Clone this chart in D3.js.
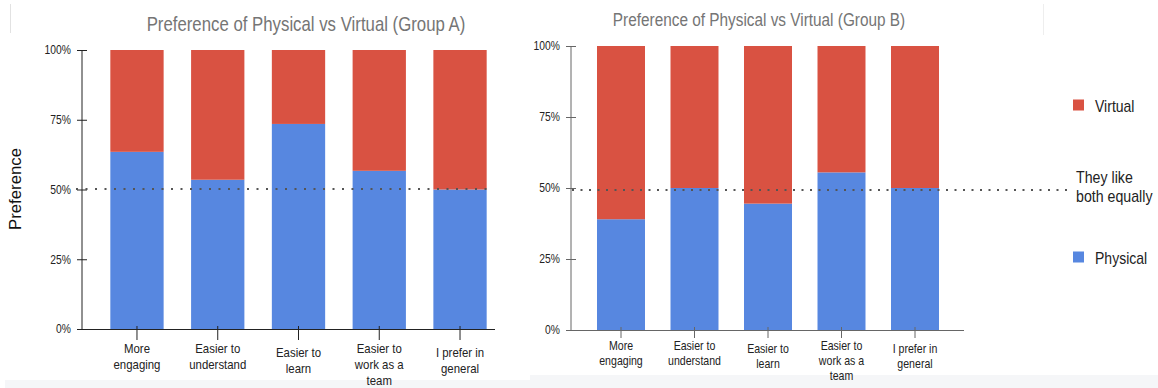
<!DOCTYPE html>
<html>
<head>
<meta charset="utf-8">
<script src="https://cdn.jsdelivr.net/npm/d3@7"></script>
<style>
  html, body { margin: 0; padding: 0; background: #fff; }
  svg { display: block; }
  text { font-family: "Liberation Sans", Arial, Helvetica, sans-serif; }
</style>
</head>
<body>
<svg id="chart" width="1158" height="388"></svg>
<script>
// ---- data ----
const categories = ["More engaging", "Easier to understand", "Easier to learn", "Easier to work as a team", "I prefer in general"];
const tickLabels = [["More", "engaging"], ["Easier to", "understand"], ["Easier to", "learn"], ["Easier to", "work as a", "team"], ["I prefer in", "general"]];
const seriesNames = ["Physical", "Virtual"];
const physicalA = [0.635, 0.535, 0.735, 0.567, 0.50];
const virtualA  = [0.365, 0.465, 0.265, 0.433, 0.50];
const physicalB = [0.39, 0.50, 0.445, 0.555, 0.50];
const virtualB  = [0.61, 0.50, 0.555, 0.445, 0.50];
const yTicks = [0, 0.25, 0.5, 0.75, 1];
const equalValue = 0.5;
const titleA = "Preference of Physical vs Virtual (Group A)";
const titleB = "Preference of Physical vs Virtual (Group B)";
const yAxisTitle = "Preference";
const equalLabel = ["They like", "both equally"];

const colors = { Physical: "#5787e0", Virtual: "#d95242" };
const SX = 0.84; // horizontal squeeze of the screenshot's text
const svg = d3.select("#chart");

// text helper: squeezed horizontally, multi-line
function label(parent, x, y, size, lines, opts = {}) {
  const t = parent.append("text")
    .attr("transform", `translate(${x},${y}) scale(${opts.sx ?? SX},1)`)
    .attr("text-anchor", opts.anchor || "start")
    .attr("font-size", size).attr("fill", opts.fill || "#222");
  lines.forEach((ln, j) => t.append("tspan").attr("x", 0).attr("dy", j === 0 ? 0 : (opts.lineH || size * 1.2)).text(ln));
  return t;
}

// background decorations of the screenshot
svg.append("rect").attr("x", 5).attr("y", 380).attr("width", 525).attr("height", 8).attr("fill", "#f5f6f8");
svg.append("rect").attr("x", 530).attr("y", 375).attr("width", 628).attr("height", 13).attr("fill", "#f5f6f8");
svg.append("line").attr("x1", 10.5).attr("x2", 10.5).attr("y1", 4).attr("y2", 33).attr("stroke", "#e2e2e2");
svg.append("line").attr("x1", 1043.5).attr("x2", 1043.5).attr("y1", 4).attr("y2", 35).attr("stroke", "#eeeeee");

function drawChart(cfg) {
  const g = svg.append("g");
  const x = d3.scaleBand().domain(categories).range(cfg.bandRange)
    .paddingInner(cfg.padInner).paddingOuter(cfg.padInner / 2);
  const y = d3.scaleLinear().domain([0, 1]).range([cfg.bottom, cfg.top]);

  const rows = categories.map((c, i) => ({ cat: c, Physical: cfg.physical[i], Virtual: cfg.virtual[i] }));
  const stacked = d3.stack().keys(seriesNames)(rows);

  g.selectAll("g.series").data(stacked).join("g")
    .attr("fill", d => colors[d.key])
    .selectAll("rect").data(d => d).join("rect")
    .attr("x", d => x(d.data.cat))
    .attr("width", x.bandwidth())
    .attr("y", d => y(d[1]))
    .attr("height", d => y(d[0]) - y(d[1]));

  // y axis
  const yAxis = d3.axisLeft(y).tickValues(yTicks).tickFormat(d3.format(".0%")).tickSize(5).tickPadding(6);
  const ya = g.append("g").attr("transform", `translate(${cfg.axisX},0)`).call(yAxis);
  ya.select(".domain").attr("stroke", cfg.axisColor).attr("d", `M0,${cfg.top}V${cfg.bottom}`);
  ya.selectAll(".tick line").attr("stroke", cfg.axisColor).attr("x1", 5).attr("x2", -5);
  ya.selectAll(".tick text").attr("fill", "#222").attr("font-size", cfg.tickFont)
    .attr("font-family", "Liberation Sans, Arial, sans-serif")
    .attr("x", -11 / SX).attr("transform", `scale(${SX},1)`);

  // x axis
  const xAxis = d3.axisBottom(x).tickSize(cfg.xTickLen).tickFormat("");
  const xa = g.append("g").attr("transform", `translate(0,${cfg.bottom})`).call(xAxis);
  xa.select(".domain").remove();
  xa.selectAll(".tick line").attr("stroke", cfg.axisColor).attr("y1", -3);
  g.append("line").attr("x1", cfg.axisX).attr("x2", cfg.axisEnd)
    .attr("y1", cfg.bottom + 0.5).attr("y2", cfg.bottom + 0.5).attr("stroke", cfg.axisColor);

  // x labels (multi-line)
  const lowered = [false, false, true, false, true];
  categories.forEach((c, i) => {
    label(g, x(c) + x.bandwidth() / 2, cfg.bottom + cfg.labelTop + (lowered[i] ? cfg.lowerShift : 0),
      cfg.labelFont, tickLabels[i], { anchor: "middle", lineH: cfg.lineH });
  });

  // dotted "equal" reference line
  g.append("line").attr("x1", cfg.dotStart).attr("x2", cfg.dotEnd)
    .attr("y1", y(equalValue) + cfg.dotOffset).attr("y2", y(equalValue) + cfg.dotOffset)
    .attr("stroke", "#555").attr("stroke-width", 2).attr("stroke-dasharray", cfg.dash);

  // title
  label(g, cfg.titleX, cfg.titleY, cfg.titleFont, [cfg.title], { anchor: "middle", fill: "#757575" });
  return { x, y };
}

drawChart({
  physical: physicalA, virtual: virtualA, title: titleA,
  bandRange: [96.6, 500.4], padInner: 0.34, top: 50, bottom: 329, axisX: 82, axisEnd: 495,
  axisColor: "#222", tickFont: 12.3, xTickLen: 11, labelTop: 24, lowerShift: 4, lineH: 16, labelFont: 13.6,
  dotStart: 76, dotEnd: 494, dotOffset: -0.5, dash: "2,7.5", titleX: 306, titleY: 31, titleFont: 20
});

drawChart({
  physical: physicalB, virtual: virtualB, title: titleB,
  bandRange: [584.25, 951.75], padInner: 0.347, top: 46, bottom: 330, axisX: 571, axisEnd: 964,
  axisColor: "#666", tickFont: 12.3, xTickLen: 8, labelTop: 19.5, lowerShift: 3, lineH: 15.5, labelFont: 12.6,
  dotStart: 572, dotEnd: 1073, dotOffset: 2, dash: "2,6.5", titleX: 759, titleY: 26, titleFont: 18.3
});

// y axis title (left chart)
svg.append("text").attr("transform", "translate(21,189) rotate(-90)").attr("text-anchor", "middle")
  .attr("font-size", 16.8).attr("fill", "#111").text(yAxisTitle);

// legend
const legendY = { Virtual: 105, Physical: 257 };
["Virtual", "Physical"].forEach(k => {
  svg.append("rect").attr("x", 1073).attr("y", legendY[k] - 5.5).attr("width", 11).attr("height", 11)
    .attr("fill", colors[k]);
  label(svg, 1095, legendY[k] + 6.5, 16.4, [k], { sx: 0.855 });
});

// "They like both equally" annotation
label(svg, 1076, 183, 16.6, equalLabel, { sx: 0.855, lineH: 19.5 });
</script>
</body>
</html>
